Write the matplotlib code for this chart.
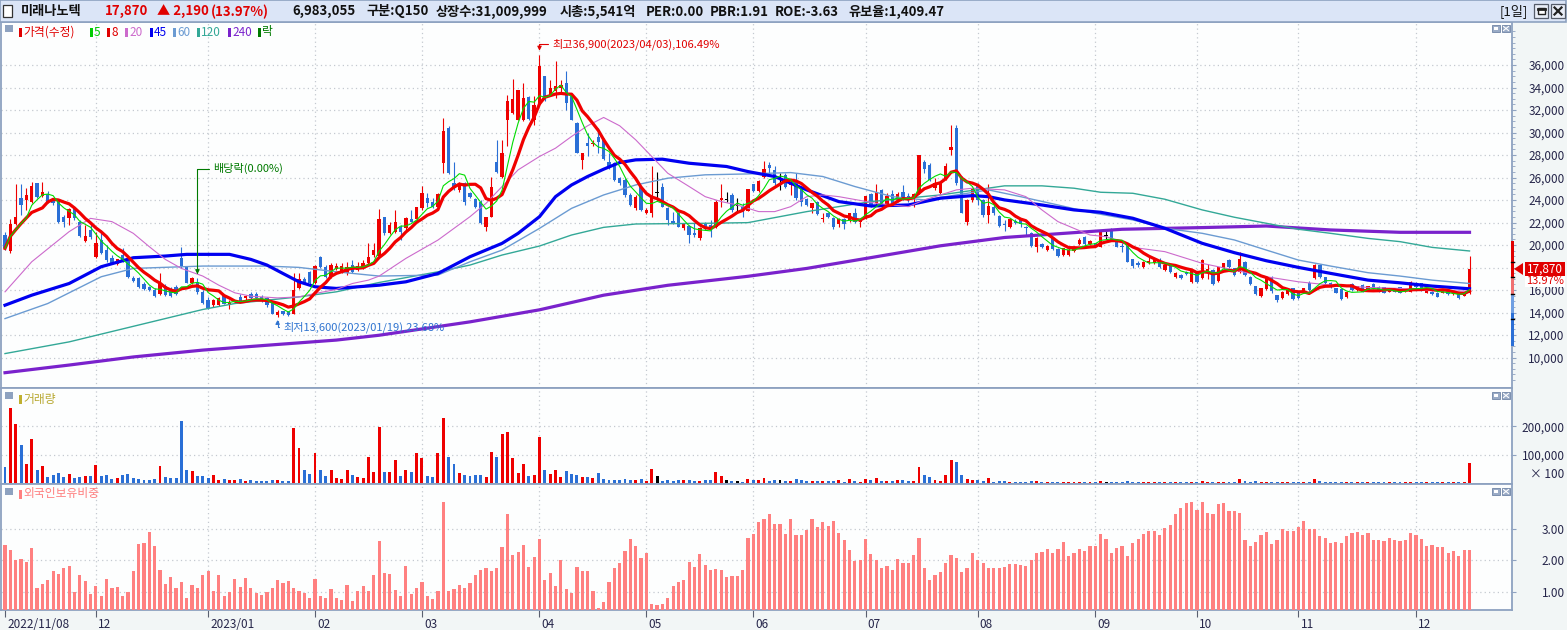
import matplotlib
matplotlib.use("Agg")
import matplotlib.pyplot as plt
import matplotlib.transforms as mtransforms
from matplotlib.patches import Rectangle, Polygon
from matplotlib.ticker import FixedLocator
import numpy as np
import pandas as pd

plt.rcParams["font.family"] = ["Noto Sans CJK KR", "DejaVu Sans"]
plt.rcParams["axes.unicode_minus"] = False

W, H = 1567, 630

# 2022/11/08 ~ 2023/12/15 일봉 (수정주가)
month_days = [0, 17, 38, 58, 78, 100, 120, 140, 161, 182, 204, 223, 242, 264]
month_labels = ["2022/11/08", "12", "2023/01", "02", "03", "04", "05", "06",
                "07", "08", "09", "10", "11", "12"]

open_px = [
    20890, 19450, 21850, 24150, 24000, 23850, 25550, 24360, 24540, 23900,
    23860, 22520, 22370, 23270, 22080, 20400, 21330, 18900, 20440, 19550,
    18810, 18270, 19100, 18660, 17090, 17030, 16520, 16280, 15990, 15690,
    16370, 15990, 16230, 18810, 18010, 16580, 16730, 15840, 15150, 14650,
    14650, 15540, 14650, 14950, 15390, 15250, 15690, 15690, 15390, 15250,
    14860, 13760, 14100, 14060, 13910, 16200, 16940, 17620, 16580, 18960,
    18070, 17180, 17830, 17620, 17470, 18220, 17770, 17920, 18360, 19100,
    19000, 22520, 21040, 21180, 21630, 21480, 22300, 22280, 23270, 24150,
    23860, 23410, 27270, 30390, 25490, 24900, 25490, 24600, 24060, 23860,
    21630, 22520, 27420, 26090, 31130, 31730, 31130, 31130, 33160, 31130,
    32470, 34990, 33360, 33660, 33950, 34400, 33210, 30840, 27570, 29050,
    28960, 29560, 29350, 27420, 27270, 25940, 25790, 24450, 23270, 25200,
    22820, 22820, 24600, 25200, 23270, 22130, 22880, 21480, 21690, 21040,
    20590, 21870, 21780, 21630, 23960, 24000, 24450, 23500, 23410, 23060,
    25400, 24840, 26020, 27120, 26680, 25900, 26240, 25340, 25640, 24960,
    24060, 23270, 23860, 22310, 22820, 22370, 21870, 22280, 22220, 22820,
    22080, 22370, 24540, 23710, 24900, 23620, 24540, 24000, 24750, 24360,
    24150, 24600, 27420, 27120, 25050, 24600, 25940, 28460, 30390, 26090,
    22080, 24000, 25340, 24000, 22670, 23350, 22580, 21870, 21570, 22160,
    22220, 21630, 21040, 19790, 20080, 19550, 20680, 19610, 19100, 19100,
    19490, 20080, 20680, 20080, 20140, 19850, 20800, 21390, 20440, 19910,
    19910, 18720, 18400, 18010, 18400, 18370, 18660, 17770, 18130, 17120,
    17330, 17620, 16730, 17620, 17030, 17700, 17770, 16820, 17920, 18660,
    17920, 17620, 18510, 17180, 16350, 15450, 16050, 17180, 15540, 15250,
    15690, 16140, 15840, 15840, 16580, 17030, 18220, 17120, 16640, 16140,
    16050, 15340, 16520, 15990, 16440, 15930, 16520, 16290, 16230, 15840,
    16140, 16230, 15900, 15840, 16640, 16580, 15750, 15840, 15750, 15750,
    15930, 15630, 15690, 15500, 15700,
]
high_px = [
    21180, 22300, 25400, 25400, 25050, 25640, 25550, 25640, 24810, 24010,
    24010, 22670, 23270, 23410, 22220, 21780, 22080, 21180, 21330, 20000,
    19100, 18800, 19700, 18960, 17240, 17180, 16730, 16400, 16140, 17470,
    16520, 16280, 16430, 19850, 18070, 17200, 17030, 15990, 15390, 15200,
    15390, 15690, 15100, 15100, 15690, 15540, 15840, 15800, 15540, 15390,
    14950, 14200, 14150, 14150, 17470, 17470, 17180, 17700, 18220, 19050,
    18200, 18420, 18360, 18360, 18510, 18660, 18510, 18660, 20150, 20150,
    23200, 22520, 22080, 23120, 21780, 22520, 23120, 23410, 25250, 24600,
    24150, 24600, 31280, 30540, 27420, 25640, 25640, 24750, 24150, 24010,
    22520, 26090, 29350, 29350, 33360, 34760, 33810, 34400, 33270, 33210,
    36900, 35050, 34700, 36330, 34700, 35440, 33270, 30900, 28220, 29940,
    29350, 30390, 29500, 28160, 27420, 26090, 25940, 24600, 24450, 25250,
    23270, 26980, 26530, 25490, 23410, 22970, 22970, 21930, 21780, 21930,
    21630, 22080, 22220, 24010, 25390, 24750, 24600, 24150, 23760, 25000,
    25450, 25750, 27480, 27420, 26980, 26380, 26380, 25790, 26380, 25050,
    24150, 23710, 23900, 22820, 22970, 22520, 22370, 22370, 22820, 23270,
    22370, 24360, 24600, 25430, 24960, 24660, 24900, 24750, 25340, 24600,
    24600, 28020, 27570, 27270, 25940, 25640, 27270, 30690, 30690, 26150,
    24060, 25050, 25490, 24060, 25400, 23560, 22670, 22220, 22370, 22280,
    22370, 21690, 21180, 20740, 20200, 20000, 20740, 19700, 19750, 19700,
    19900, 20590, 20800, 20450, 20200, 21330, 21270, 21480, 20500, 20150,
    20000, 18800, 18600, 18560, 18960, 18720, 18810, 18300, 18200, 17600,
    17400, 17700, 17800, 17700, 18720, 18300, 17850, 18070, 18400, 18720,
    18000, 19400, 18600, 17250, 16400, 16200, 17250, 17250, 15600, 15900,
    16200, 16200, 15900, 16200, 16800, 18300, 18300, 17200, 16700, 16200,
    16100, 15900, 16600, 16400, 16500, 16400, 16600, 16350, 16300, 16100,
    16200, 16300, 16100, 16800, 16700, 16650, 16200, 15900, 15800, 16100,
    16000, 15800, 15750, 15750, 19020,
]
low_px = [
    19550, 19300, 21800, 22670, 23120, 23700, 24150, 24300, 23700, 23600,
    21930, 21630, 21780, 22220, 20740, 20300, 20500, 18810, 19200, 18510,
    18300, 18200, 18500, 17030, 16670, 16140, 15990, 15900, 15390, 15540,
    15450, 15390, 15540, 17920, 16580, 16500, 15690, 14800, 14350, 14500,
    14560, 14740, 14350, 14860, 14860, 15150, 15150, 15250, 14950, 14500,
    13850, 13600, 13800, 13700, 13850, 16050, 16500, 16500, 16520, 17990,
    17100, 17110, 17770, 17530, 17330, 17530, 17710, 17830, 18300, 18960,
    18900, 20890, 20980, 21040, 20440, 21330, 22050, 22230, 23120, 23410,
    23270, 23270, 26380, 26320, 24900, 24750, 23560, 24150, 23270, 21870,
    21270, 22460, 26380, 25940, 28760, 31670, 31070, 30990, 31130, 30690,
    32320, 32770, 33270, 33070, 33510, 32020, 31070, 28160, 26730, 27870,
    28760, 28160, 27570, 26770, 25730, 25340, 24300, 23470, 23120, 23060,
    22760, 22520, 24000, 23350, 21780, 21870, 21570, 21330, 20140, 20740,
    20440, 21330, 20740, 21480, 23410, 23860, 22970, 22970, 22520, 23000,
    24750, 24750, 25940, 26240, 25340, 24900, 25100, 24450, 24000, 23470,
    23470, 22880, 22670, 22080, 22370, 21420, 21630, 21390, 22080, 21930,
    21630, 22280, 23410, 23560, 23470, 23560, 23560, 23860, 24000, 23860,
    23410, 24540, 26380, 25700, 24900, 24540, 25790, 28020, 25340, 22820,
    21780, 23860, 23560, 22520, 21990, 22670, 21630, 21270, 21510, 21870,
    21630, 20890, 19790, 19400, 19700, 19500, 19550, 18960, 19050, 19010,
    19400, 19970, 19970, 20000, 19800, 19800, 20500, 20400, 19800, 19400,
    18450, 18000, 18010, 17950, 18300, 18300, 18000, 17700, 17550, 17030,
    16950, 17300, 16650, 16650, 16950, 16950, 16480, 16750, 17850, 17950,
    17250, 17550, 17250, 16480, 15550, 15400, 15990, 15700, 14950, 15200,
    15600, 15100, 15200, 15750, 15900, 16950, 17100, 16500, 16150, 15700,
    15100, 15300, 15900, 15950, 15800, 15900, 16100, 15800, 15700, 15800,
    15800, 15700, 15850, 15800, 16150, 15900, 15700, 15550, 15350, 15700,
    15600, 15550, 15200, 15450, 15650,
]
close_px = [
    19700, 21850, 22520, 23560, 24450, 25280, 24300, 24750, 23860, 23750,
    22080, 22080, 23170, 22370, 20800, 20800, 20740, 20150, 19260, 18660,
    18420, 18720, 18600, 17180, 16790, 16230, 16050, 15990, 15450, 16580,
    15540, 15450, 15690, 18130, 16640, 17110, 15840, 14860, 14440, 15100,
    15250, 14800, 14860, 15000, 15000, 15450, 15250, 15330, 15040, 14650,
    13910, 14060, 13850, 13760, 15990, 16940, 16580, 16580, 18130, 18070,
    17180, 18220, 18130, 18130, 18070, 17620, 18130, 18360, 18960, 19550,
    22300, 21040, 21780, 22080, 21180, 22370, 22080, 23350, 24600, 23710,
    23350, 24510, 30150, 26440, 25050, 25550, 23860, 24240, 23410, 21930,
    22520, 25200, 26530, 28170, 32770, 32980, 33750, 33070, 31230, 32470,
    35890, 32920, 33950, 34100, 34190, 32620, 31130, 28220, 28220, 28820,
    29110, 29200, 27630, 26830, 25790, 25490, 24450, 23560, 24300, 23120,
    23120, 24300, 24600, 23410, 22220, 21930, 21630, 21870, 20890, 20890,
    21480, 21390, 21630, 23860, 24150, 24000, 23120, 23500, 22940, 24950,
    24840, 25700, 26740, 26830, 25490, 25900, 25200, 25550, 24150, 23860,
    23560, 23710, 22730, 22430, 22460, 21570, 22280, 21870, 22820, 22080,
    22280, 24360, 23560, 24750, 23650, 24360, 23650, 24540, 24150, 24000,
    24540, 28020, 26740, 25790, 25490, 25550, 26980, 28670, 25490, 22880,
    24000, 24960, 24000, 22670, 23470, 22820, 21690, 21750, 22280, 21930,
    21870, 21480, 19900, 20590, 19850, 19940, 19610, 19010, 19700, 19550,
    19850, 20440, 20080, 20380, 19850, 21270, 20800, 20440, 19850, 19790,
    18510, 18130, 18250, 18510, 18600, 18660, 18070, 18220, 17620, 17530,
    17030, 17420, 17770, 16730, 18660, 17850, 16530, 18010, 18370, 18010,
    17330, 18720, 17330, 16530, 15630, 16140, 17180, 15930, 15100, 15840,
    16140, 15160, 15250, 16140, 15990, 18220, 17180, 16580, 16230, 15750,
    15160, 15840, 15990, 16350, 15840, 16350, 16140, 15840, 15750, 16050,
    15840, 15750, 16050, 16730, 16230, 15930, 16140, 15630, 15400, 16050,
    15630, 15750, 15250, 15680, 17870,
]

# 거래량 (x100 주 단위, 천)
volume_k = [
    56, 265, 208, 133, 67, 155, 46, 60, 21, 28,
    35, 21, 32, 18, 21, 25, 25, 64, 25, 28,
    14, 18, 28, 32, 18, 14, 11, 11, 14, 60,
    21, 18, 18, 219, 46, 42, 25, 25, 18, 28,
    11, 14, 11, 11, 14, 7, 11, 7, 7, 7,
    11, 11, 7, 7, 194, 124, 46, 32, 106, 46,
    25, 46, 18, 14, 46, 28, 21, 18, 92, 39,
    198, 39, 39, 81, 25, 46, 39, 106, 88, 25,
    21, 106, 229, 92, 67, 35, 28, 25, 28, 28,
    21, 109, 92, 173, 180, 88, 35, 67, 25, 28,
    162, 46, 32, 46, 21, 42, 32, 28, 21, 21,
    18, 35, 14, 11, 11, 11, 14, 11, 11, 14,
    7, 49, 25, 7, 11, 7, 11, 11, 11, 7,
    7, 11, 11, 39, 25, 11, 7, 7, 4, 14,
    11, 11, 18, 7, 11, 11, 7, 7, 14, 11,
    7, 7, 7, 7, 7, 7, 11, 4, 14, 7,
    4, 14, 11, 18, 7, 7, 7, 11, 11, 7,
    7, 56, 28, 21, 11, 7, 28, 81, 74, 28,
    14, 11, 11, 7, 18, 4, 7, 7, 4, 4,
    4, 4, 7, 7, 4, 4, 4, 4, 4, 4,
    4, 4, 4, 4, 4, 7, 4, 4, 4, 4,
    7, 4, 4, 4, 4, 4, 4, 4, 4, 4,
    4, 4, 4, 4, 7, 4, 4, 4, 4, 4,
    4, 14, 7, 4, 7, 4, 4, 4, 4, 4,
    4, 4, 4, 4, 4, 14, 7, 4, 4, 4,
    4, 4, 4, 4, 4, 4, 4, 4, 4, 4,
    4, 4, 4, 4, 4, 4, 4, 4, 4, 4,
    4, 4, 4, 4, 70,
]

# 외국인보유비중 (%)
foreign_pct = [
    2.49, 2.33, 2.01, 2.04, 1.95, 2.39, 1.13, 1.25, 1.38, 1.66,
    1.57, 1.76, 1.82, 1.00, 1.54, 1.35, 0.94, 1.19, 0.87, 1.41,
    1.13, 1.16, 0.87, 1.00, 1.66, 2.52, 2.55, 2.89, 2.45, 1.69,
    1.25, 1.47, 1.13, 1.32, 0.81, 1.22, 1.13, 1.54, 1.66, 1.03,
    1.54, 0.87, 1.00, 1.41, 1.16, 1.44, 1.13, 0.97, 0.91, 1.00,
    1.13, 1.38, 1.28, 1.35, 1.13, 1.03, 0.97, 0.81, 1.41, 0.87,
    0.81, 1.09, 0.81, 0.75, 1.22, 0.72, 1.03, 1.19, 1.03, 1.54,
    2.61, 1.60, 1.57, 1.06, 0.87, 1.82, 0.94, 1.13, 1.32, 0.87,
    0.78, 1.03, 3.84, 1.03, 1.09, 1.22, 1.13, 1.28, 1.54, 1.69,
    1.76, 1.66, 1.76, 2.42, 3.46, 2.17, 2.26, 2.48, 1.79, 2.11,
    2.67, 1.38, 1.60, 1.19, 2.01, 1.09, 0.97, 1.79, 1.66, 1.66,
    1.03, 0.49, 0.68, 1.32, 1.76, 1.92, 2.29, 2.67, 2.45, 2.07,
    2.23, 0.62, 0.59, 0.62, 0.81, 1.19, 1.32, 1.38, 1.95, 1.79,
    2.20, 1.85, 1.69, 1.73, 1.69, 1.47, 1.51, 1.51, 1.69, 2.71,
    2.83, 3.21, 3.31, 3.46, 3.15, 3.15, 2.83, 3.31, 2.80, 2.80,
    2.96, 3.31, 3.05, 3.21, 3.08, 3.24, 2.86, 2.64, 2.33, 1.98,
    2.01, 2.67, 2.20, 2.01, 1.76, 1.82, 1.69, 2.04, 1.92, 1.92,
    2.17, 2.71, 1.76, 1.38, 1.54, 1.63, 1.92, 2.17, 2.07, 1.63,
    1.76, 2.23, 2.01, 1.92, 1.76, 1.76, 1.76, 1.79, 1.88, 1.88,
    1.85, 1.82, 2.01, 2.23, 2.26, 2.36, 2.23, 2.36, 2.58, 2.14,
    2.23, 2.36, 2.29, 2.45, 2.45, 2.83, 2.67, 2.23, 2.39, 2.45,
    2.14, 2.55, 2.67, 2.83, 2.93, 2.93, 2.80, 3.02, 3.12, 3.46,
    3.65, 3.81, 3.84, 3.59, 3.84, 3.49, 3.46, 3.78, 3.81, 3.56,
    3.56, 3.49, 2.64, 2.45, 2.58, 2.80, 2.89, 2.52, 2.64, 2.99,
    2.93, 2.93, 3.05, 3.24, 2.99, 2.99, 2.77, 2.71, 2.55, 2.58,
    2.55, 2.77, 2.86, 2.89, 2.80, 2.86, 2.64, 2.64, 2.61, 2.71,
    2.64, 2.61, 2.64, 2.86, 2.80, 2.67, 2.45, 2.48, 2.42, 2.42,
    2.23, 2.29, 2.14, 2.33, 2.33,
]

# 이동평균선
ma20_days = [0, 5, 12, 16, 20, 24, 27, 30, 33, 37, 40, 43, 46, 51, 55, 58, 62, 65, 68, 70,
             75, 81, 87, 90, 93, 96, 100, 103, 106, 109, 112, 115, 118, 121, 124, 128, 131,
             134, 137, 141, 144, 147, 150, 153, 156, 163, 169, 172, 175, 178, 181, 187, 191,
             194, 197, 200, 203, 206, 209, 211, 217, 224, 230, 236, 242, 248, 255, 261, 267, 274]
ma20_vals = [15840, 18510, 21190, 22370, 22080, 21040, 19850, 18720, 17920, 17240, 16430,
             15750, 15450, 15300, 15390, 15690, 16050, 16580, 16880, 17240, 18810, 20440,
             22520, 23710, 25200, 26680, 27870, 28610, 29650, 30600, 31340, 30600, 29350,
             27870, 26380, 25200, 24300, 23860, 23560, 22970, 22970, 23410, 24300, 24450,
             24300, 23710, 23410, 24010, 24450, 24900, 25050, 24900, 24300, 23120, 22080,
             21480, 20890, 20740, 20350, 19790, 19410, 18370, 17770, 17180, 16730, 16440,
             16230, 16140, 15930, 15900]
ma45_days = [0, 5, 12, 18, 24, 30, 34, 42, 46, 49, 52, 55, 58, 62, 70, 75, 81, 87, 93, 96,
             100, 103, 106, 109, 112, 115, 118, 123, 128, 135, 139, 144, 150, 156, 162, 169,
             175, 181, 184, 187, 194, 200, 205, 211, 217, 224, 230, 236, 242, 248, 255, 261,
             267, 274]
ma45_vals = [14650, 15540, 16580, 18070, 18870, 19020, 19170, 19170, 18720, 18220, 17470,
             16730, 16290, 16140, 16430, 16730, 17470, 18960, 20150, 21040, 22520, 24300,
             25340, 26090, 26740, 27330, 27570, 27630, 27270, 26980, 26530, 26090, 24900,
             23860, 23470, 23560, 24160, 24390, 24300, 24010, 23560, 23120, 22910, 22380,
             21490, 20150, 19320, 18600, 18010, 17480, 16880, 16640, 16350, 16110]
ma60_days = [0, 8, 18, 24, 37, 49, 55, 62, 70, 81, 87, 93, 100, 106, 112, 118, 124, 131, 139,
             147, 153, 159, 166, 172, 178, 184, 190, 197, 203, 211, 217, 224, 230, 236, 242,
             248, 255, 261, 267, 274]
ma60_vals = [13460, 14800, 17180, 17920, 18130, 18130, 18010, 17620, 17240, 17330, 18510,
             19550, 21480, 23260, 24450, 25340, 25940, 26240, 26320, 26440, 26090, 25200,
             24300, 24010, 24450, 24900, 24300, 23560, 22900, 22230, 21490, 21040, 20450,
             19550, 18660, 18130, 17540, 17240, 16880, 16580]
ma120_days = [0, 12, 37, 43, 55, 62, 70, 81, 87, 93, 100, 106, 112, 118, 131, 139, 150, 162,
              175, 187, 194, 200, 205, 211, 217, 224, 230, 236, 242, 248, 255, 261, 267, 274]
ma120_vals = [10350, 11390, 14270, 14800, 15390, 15840, 16670, 17620, 18220, 19110, 19910,
              20890, 21570, 21870, 21930, 21990, 22970, 23860, 24450, 25260, 25260, 25050,
              24690, 24600, 24070, 23120, 22470, 21930, 21400, 21040, 20590, 20300, 19790,
              19470]
ma240_days = [0, 12, 24, 37, 49, 62, 70, 87, 100, 112, 124, 139, 150, 162, 175, 187, 200,
              209, 224, 236, 248, 261, 274]
ma240_vals = [8650, 9330, 10050, 10660, 11090, 11550, 11980, 13170, 14240, 15540, 16420,
              17220, 17920, 18880, 19930, 20670, 21100, 21400, 21550, 21690, 21340, 21130,
              21130]

EXDIV_DAY = 36
PREV_CLOSE = 15680
LIMIT_UP, LIMIT_DN = 20380, 10980

UP, DOWN, FLAT = "#ee0000", "#2a6fd6", "#000000"
BORDER = "#8ea2c0"
GRID = "#c4c9d0"
TXT = "#26264a"

assert len(open_px) == len(high_px) == len(low_px) == len(close_px) == len(volume_k) == len(foreign_pct)


def box(x0, y0, x1, y1):
    return [x0 / W, 1 - y1 / H, (x1 - x0) / W, (y1 - y0) / H]


fig = plt.figure(figsize=(W / 100, H / 100), dpi=100, facecolor="#f2f6f6")
ax_p = fig.add_axes(box(1, 22, 1512, 388))
ax_v = fig.add_axes(box(1, 388, 1512, 484), sharex=ax_p)
ax_f = fig.add_axes(box(1, 484, 1512, 610), sharex=ax_p)

x = np.arange(len(close_px))
o = np.array(open_px, float)
h = np.array(high_px, float)
l = np.array(low_px, float)
c = np.array(close_px, float)
col = np.where(c > o, UP, np.where(c < o, DOWN, FLAT))

# 캔들
ax_p.vlines(x, l, h, colors=col, lw=0.8, zorder=3)
ax_p.bar(x, np.maximum(np.abs(c - o), 70), bottom=np.minimum(o, c), width=0.62,
         color=col, lw=0, zorder=3)

# 이동평균선
close_s = pd.Series(c)
ma5 = close_s.rolling(5, min_periods=1).mean()
ma8 = close_s.rolling(8, min_periods=1).mean()
ax_p.plot(ma240_days, ma240_vals, color="#7a22cc", lw=2.3, zorder=4)
ax_p.plot(ma120_days, ma120_vals, color="#33a897", lw=1.0, zorder=4)
ax_p.plot(ma60_days, ma60_vals, color="#6b9bd2", lw=1.0, zorder=4)
ax_p.plot(ma45_days, ma45_vals, color="#0000f0", lw=2.3, zorder=4)
ax_p.plot(ma20_days, ma20_vals, color="#cc6acc", lw=0.8, zorder=4)
ax_p.plot(x, ma8, color="#f00000", lw=2.3, zorder=5)
ax_p.plot(x, ma5, color="#00dd00", lw=0.8, zorder=5)

# 최고 / 최저 / 배당락 표시
hi_day, lo_day = int(np.argmax(h)), int(np.argmin(l))
ax_p.annotate(f"최고{int(h[hi_day]):,}(2023/04/03),106.49%", xy=(hi_day, h[hi_day]),
              xytext=(9, 7.5), textcoords="offset points", ha="left", va="center",
              color="#e00000", fontsize=8, zorder=6,
              arrowprops=dict(arrowstyle="-|>", color="#e00000", lw=0.8, mutation_scale=6,
                              connectionstyle="angle,angleA=180,angleB=90,rad=0",
                              relpos=(0, 0.5), shrinkA=1, shrinkB=3))
ax_p.annotate(f"최저{int(l[lo_day]):,}(2023/01/19),23.68%", xy=(lo_day, l[lo_day]),
              xytext=(4, -7.5), textcoords="offset points", ha="left", va="center",
              color="#2f74d0", fontsize=8, zorder=6,
              arrowprops=dict(arrowstyle="-|>", color="#2f74d0", lw=0.8, mutation_scale=6,
                              connectionstyle="angle,angleA=180,angleB=90,rad=0",
                              relpos=(0, 0.5), shrinkA=1, shrinkB=2))
ax_p.annotate("배당락(0.00%)", xy=(EXDIV_DAY, h[EXDIV_DAY]),
              xytext=(11, 79), textcoords="offset points", ha="left", va="center",
              color="#007a00", fontsize=8, zorder=6,
              arrowprops=dict(arrowstyle="-|>", color="#007a00", lw=0.8, mutation_scale=6,
                              connectionstyle="angle,angleA=180,angleB=90,rad=0",
                              relpos=(0, 0.5), shrinkA=1, shrinkB=3))

# 거래량
ax_v.bar(x, np.array(volume_k) * 1000, width=0.55, color=col, lw=0, zorder=3)
# 외국인보유비중
ax_f.bar(x, foreign_pct, width=0.6, color="#ff8080", lw=0, zorder=3)

ax_p.set_xlim(-0.75, 281.95)
ax_p.set_ylim(7290, 39825)
ax_v.set_ylim(-3170, 334860)
ax_f.set_ylim(0.431, 4.412)

dot = (0, (1, 2.5))
price_ticks = list(range(10000, 36001, 2000))
ax_p.set_yticks(price_ticks)
ax_p.set_yticklabels([f"{v:,}" for v in price_ticks], ha="right")
ax_p.yaxis.set_minor_locator(FixedLocator(range(8000, 39001, 500)))
ax_v.set_yticks([100000, 200000])
ax_v.set_yticklabels(["100,000", "200,000"], ha="right")
ax_f.set_yticks([1, 2, 3])
ax_f.set_yticklabels(["1.00", "2.00", "3.00"], ha="right")

for a in (ax_p, ax_v, ax_f):
    a.set_facecolor("#fdfefe")
    a.yaxis.tick_right()
    a.tick_params(axis="y", which="major", direction="out", length=3, width=0.8,
                  color=BORDER, pad=35, labelsize=8.5, labelcolor=TXT)
    a.tick_params(axis="y", which="minor", direction="out", length=2, width=0.6,
                  color=BORDER)
    a.grid(axis="y", which="major", linestyle=dot, color=GRID, lw=0.9, zorder=0)
    for d in month_days[1:]:
        a.axvline(d, linestyle=dot, color=GRID, lw=0.9, zorder=0)
    for s in a.spines.values():
        s.set_color(BORDER)
        s.set_linewidth(1.3)

ax_f.set_xticks(month_days)
ax_f.set_xticklabels(month_labels, ha="left")
ax_f.tick_params(axis="x", direction="out", length=5, width=0.8, color="#5a6070",
                 pad=1, labelsize=8.5, labelcolor=TXT)
shift = mtransforms.ScaledTranslation(1.5 / 72, 0, fig.dpi_scale_trans)
for lbl in ax_f.get_xticklabels():
    lbl.set_transform(lbl.get_transform() + shift)
for a in (ax_p, ax_v):
    a.tick_params(axis="x", length=0, labelbottom=False)

# 화면 장식 (픽셀 좌표)
ov = fig.add_axes([0, 0, 1, 1], zorder=10)
ov.set_xlim(0, W)
ov.set_ylim(H, 0)
ov.axis("off")

ov.add_patch(Rectangle((0, 0), W - 1, 22, fc="#dbe5f7", ec=BORDER, lw=1.2))
ov.add_patch(Rectangle((3, 5), 9, 12, fc="white", ec="#333333", lw=0.9))
header = [
    (21, "미래나노텍", "#111111"), (105, "17,870", "#e00000"), (157, "▲ 2,190", "#e00000"),
    (211, "(13.97%)", "#e00000"), (292, "6,983,055", "#111111"), (366, "구분:Q150", "#111111"),
    (436, "상장수:31,009,999", "#111111"), (560, "시총:5,541억", "#111111"),
    (646, "PER:0.00", "#111111"), (710, "PBR:1.91", "#111111"), (775, "ROE:-3.63", "#111111"),
    (848, "유보율:1,409.47", "#111111"),
]
for hx, text, color in header:
    ov.text(hx, 11.5, text, color=color, fontsize=9.5, fontweight="bold", ha="left", va="center")
ov.text(1500, 11.5, "[1일]", color="#111111", fontsize=9.5, ha="left", va="center")
for bx in (1534, 1551):
    ov.add_patch(Rectangle((bx, 4), 14, 14, fc="#e9eef8", ec="#555c6a", lw=0.9))
ov.add_patch(Rectangle((1537.5, 8), 7, 6, fc="white", ec="#222222", lw=1.0))
ov.plot([1537.5, 1544.5], [8.5, 8.5], color="#222222", lw=2)
ov.plot([1554.5, 1561.5], [7.5, 14.5], color="#222222", lw=1.6)
ov.plot([1554.5, 1561.5], [14.5, 7.5], color="#222222", lw=1.6)

# 패널 아이콘
for py in (25, 392, 488):
    ov.add_patch(Rectangle((5, py), 8, 7, fc="#8ea2c0", ec="none"))
    ov.add_patch(Rectangle((1492, py), 8, 7, fc="#9aabc6", ec="#6f84a6", lw=0.6))
    ov.add_patch(Rectangle((1502, py), 8, 7, fc="#9aabc6", ec="#6f84a6", lw=0.6))
    ov.add_patch(Rectangle((1494, py + 2), 4, 3, fc="white", ec="none"))
    ov.plot([1503.5, 1508.5], [py + 1.5, py + 5.5], color="white", lw=0.8)
    ov.plot([1503.5, 1508.5], [py + 5.5, py + 1.5], color="white", lw=0.8)

# 범례
legend = [(19, "가격(수정)", "#e00000"), (90, "5", "#00cc00"), (107, "8", "#e00000"),
          (125, "20", "#cc6acc"), (150, "45", "#0000f0"), (173, "60", "#6b9bd2"),
          (197, "120", "#33a897"), (228, "240", "#7a22cc"), (258, "락", "#007a00")]
for lx, text, color in legend:
    ov.add_patch(Rectangle((lx, 27.5), 2.5, 9, fc=color, ec="none"))
    ov.text(lx + 4, 32, text, color=color, fontsize=8.5, ha="left", va="center")
ov.add_patch(Rectangle((19, 394.5), 2.5, 9, fc="#c0b030", ec="none"))
ov.text(23, 399, "거래량", color="#b8a830", fontsize=8.5, ha="left", va="center")
ov.add_patch(Rectangle((19, 489.5), 2.5, 9, fc="#ff8080", ec="none"))
ov.text(23, 494, "외국인보유비중", color="#ff7f7f", fontsize=8.5, ha="left", va="center")
ov.text(1564, 474, "× 100", color=TXT, fontsize=8.5, ha="right", va="center")


def price_to_px(p):
    return H - ax_p.transData.transform((0, p))[1]


# 가격 제한폭 막대
bands = [(LIMIT_DN, 14000, "#2a6fd6"), (14000, PREV_CLOSE, "#6f9fe2"),
         (PREV_CLOSE, 17150, "#f07070"), (17150, LIMIT_UP, "#e00000")]
for lo, hi, color in bands:
    y_top, y_bot = price_to_px(hi), price_to_px(lo)
    ov.add_patch(Rectangle((1510.5, y_top), 3.5, y_bot - y_top, fc=color, ec="none"))
for p in (18500, 17150, 15680, 13400):
    yp = price_to_px(p)
    ov.plot([1510.5, 1514], [yp, yp], color="black", lw=1)

# 현재가 태그 (아래 16,000 눈금 글자를 일부 가림)
y_tag = price_to_px(c[-1])
ov.add_patch(Polygon([(1514, y_tag), (1523, y_tag - 6), (1523, y_tag + 6)], closed=True,
                     fc="#e00000", ec="none"))
ov.add_patch(Rectangle((1525, y_tag - 7), 40, 14, fc="#e00000", ec="none"))
ov.text(1545, y_tag, f"{int(c[-1]):,}", color="white", fontsize=8.5, ha="center", va="center")
ov.add_patch(Rectangle((1525, y_tag + 7), 40, 11, fc="white", ec="none"))
ov.text(1545, y_tag + 12, "13.97%", color="#e00000", fontsize=8, ha="center", va="center")

fig.savefig("out.png", dpi=100, facecolor=fig.get_facecolor())
